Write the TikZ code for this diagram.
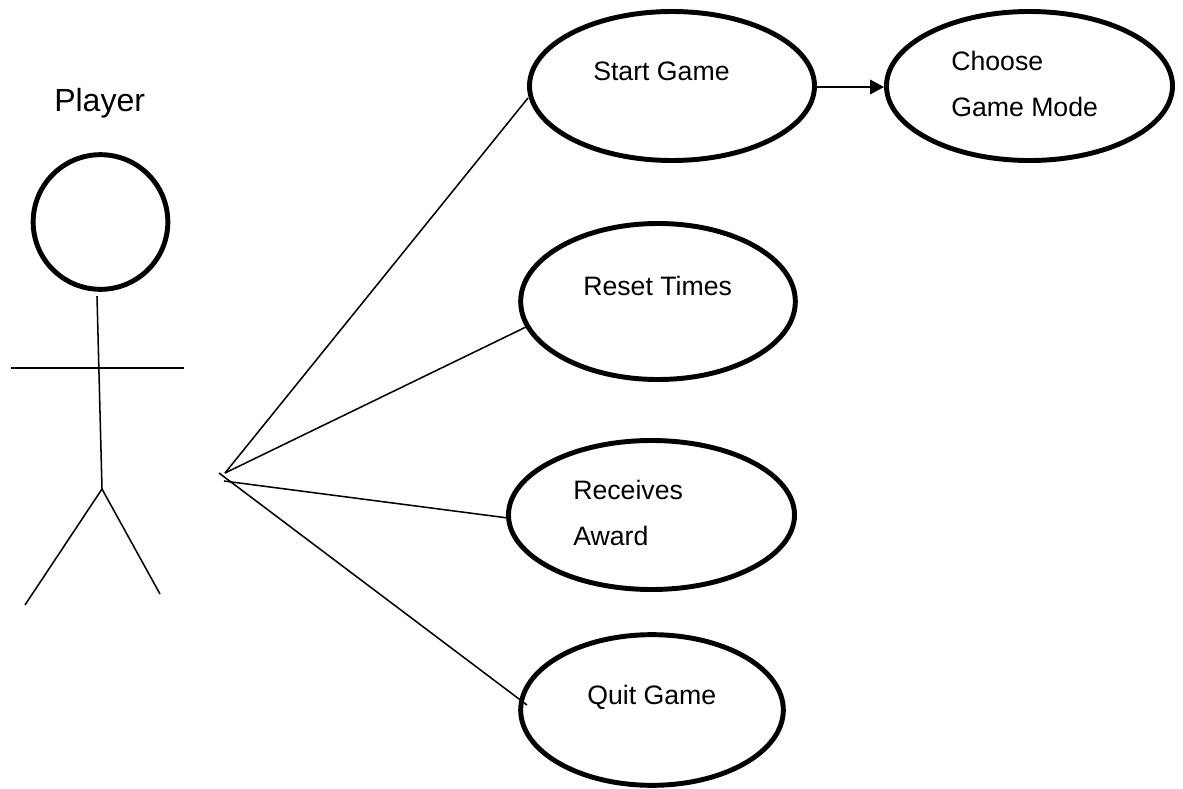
\documentclass[tikz,border=0pt]{standalone}
\usepackage{fontspec}
\setmainfont{Liberation Sans}
\usetikzlibrary{shapes.geometric,arrows.meta}
\tikzset{
 usecase/.style={draw,ellipse,line width=3.7pt,inner sep=0pt,minimum width=#1},
 lbl/.style={inner sep=0pt,anchor=base west,font=\fontsize{20pt}{24pt}\selectfont,text=black},
 thin line/.style={line width=1.15pt}
}
\begin{document}
\begin{tikzpicture}[x=0.75pt,y=-0.75pt]
\useasboundingbox (0,0) rectangle (1183,789);
\fill[white] (0,0) rectangle (1183,789);
% actor
\node[lbl,font=\fontsize{24pt}{28pt}\selectfont] (player) at (54,111.5) {Player};
\node[draw,circle,line width=3.7pt,minimum size=101pt,inner sep=0pt] (head) at (100.5,222) {};
\coordinate (neck) at (97,296);
\coordinate (hip) at (102,489);
\coordinate (armL) at (11,368);
\coordinate (armR) at (184,368);
\coordinate (footL) at (25,605);
\coordinate (footR) at (160,594);
\draw[thin line] (neck) -- (hip) -- (footL);
\draw[thin line] (hip) -- (footR);
\draw[thin line] (armL) -- (armR);
% use cases
\node[usecase=213.75pt,minimum height=111.75pt] (start) at (672,86) {};
\node[usecase=214.5pt,minimum height=111.75pt] (mode) at (1029.5,86) {};
\node[usecase=206pt,minimum height=117pt] (reset) at (658,301.5) {};
\node[usecase=214.5pt,minimum height=111.75pt] (award) at (651.5,515) {};
\node[usecase=197pt,minimum height=113pt] (quit) at (652,710) {};
\node[lbl] (t1) at (593,80) {Start Game};
\node[lbl] (t2) at (951,70) {Choose};
\node[lbl] (t3) at (951,116) {Game Mode};
\node[lbl] (t4) at (583,295) {Reset Times};
\node[lbl] (t5) at (573,499) {Receives};
\node[lbl] (t6) at (573,545) {Award};
\node[lbl] (t7) at (587,704) {Quit Game};
% connectors
\coordinate (hub) at (225,473);
\coordinate (hubA) at (219,473);
\coordinate (hubB) at (224,481);
\coordinate (p1) at (528,98);
\coordinate (p2) at (526,327);
\coordinate (p3) at (508,518);
\coordinate (p4) at (527,705);
\draw[thin line] (hub) -- (p1);
\draw[thin line] (hub) -- (p2);
\draw[thin line] (hubB) -- (p3);
\draw[thin line] (hubA) -- (p4);
\draw[thin line,-{Triangle[length=10.5pt,width=11pt]}] ([yshift=-0.75pt]start.east) -- ([yshift=-0.75pt]mode.west);
\end{tikzpicture}
\end{document}
